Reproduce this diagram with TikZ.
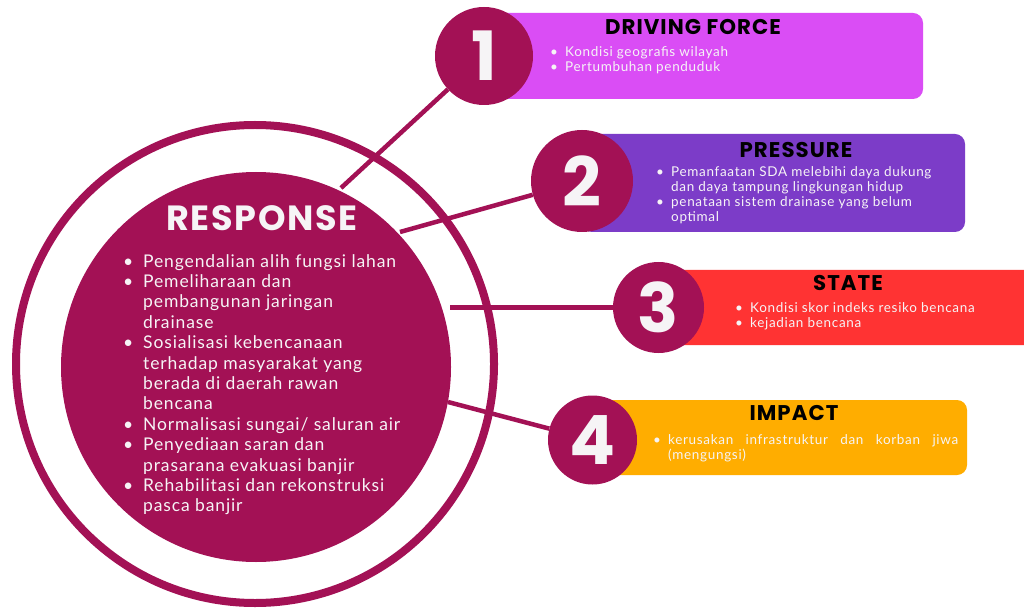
\documentclass[tikz,border=0pt]{standalone}
\usepackage{fontspec}
\usetikzlibrary{backgrounds}
\setmainfont{Lato}
\newfontfamily\headfont{Poppins}
\definecolor{maroon}{RGB}{163,17,85}
\definecolor{cdrive}{RGB}{218,77,245}
\definecolor{cpress}{RGB}{124,60,200}
\definecolor{cstate}{RGB}{255,51,51}
\definecolor{cimpact}{RGB}{255,173,0}
\definecolor{offwhite}{RGB}{246,244,246}
\newcommand\itm[2][20pt]{\makebox[#1][l]{\textbullet}#2}
\newcommand\cnt[2][20pt]{\hspace*{#1}#2}
\begin{document}
\begin{tikzpicture}[x=1pt,y=-1pt,
  conn/.style={draw=maroon, line width=4.5pt},
  numc/.style={circle, fill=maroon, inner sep=0pt, text=offwhite,
    font=\headfont\bfseries\fontsize{68}{68}\selectfont},
  infobox/.style={rounded corners=10pt, inner sep=0pt},
  boxtitle/.style={inner sep=0pt, text=black,
    font=\headfont\bfseries\fontsize{21.3}{21.3}\selectfont\addfontfeature{LetterSpace=5}},
  boxtext/.style={inner sep=0pt, anchor=north west, align=left, text=offwhite,
    font=\fontsize{13.5}{15.2}\selectfont\addfontfeature{LetterSpace=5}},
  resptext/.style={inner sep=0pt, anchor=north west, align=left, text=offwhite,
    font=\fontsize{17.5}{20.4}\selectfont\addfontfeature{LetterSpace=5}}]
\useasboundingbox (0,0) rectangle (1024,609);
\clip (0,0) rectangle (1024,609);
% info boxes
\node[infobox, fill=cdrive, minimum width=439pt, minimum height=86pt] (b1) at (703.5,56) {};
\node[infobox, fill=cpress, minimum width=383pt, minimum height=98pt] (b2) at (773.5,183) {};
\node[infobox, fill=cstate, minimum width=374pt, minimum height=75pt] (b3) at (847,307.5) {};
\node[infobox, fill=cimpact, minimum width=374pt, minimum height=75pt] (b4) at (780,437.5) {};
% outer ring and response circle
\node[circle, draw=maroon, line width=8pt, minimum size=478pt, inner sep=0pt] (ring) at (255,364) {};
\node[circle, fill=maroon, minimum size=390pt, inner sep=0pt] (resp) at (256,367) {};
% number circles
\node[numc, minimum size=98pt] (n1) at (484,56) {1};
\node[numc, minimum size=102pt] (n2) at (582,181) {2};
\node[numc, minimum size=91pt] (n3) at (658.5,307.5) {3};
\node[numc, minimum size=89pt] (n4) at (592.5,440) {4};
% connectors
\coordinate (r1) at (341,188);
\coordinate (r2) at (400,232);
\coordinate (r3) at (450,307.5);
\coordinate (r4) at (448,402);
\begin{scope}[on background layer]
\fill[white] (0,0) rectangle (1024,609);
\draw[conn] (r1) -- (n1);
\draw[conn] (r2) -- (n2);
\draw[conn] (r3) -- (n3);
\draw[conn] (r4) -- (n4);
\end{scope}
% titles
\node[boxtitle] (t1) at (693,27) {DRIVING FORCE};
\node[boxtitle] (t2) at (796,150) {PRESSURE};
\node[boxtitle] (t3) at (848,283) {STATE};
\node[boxtitle] (t4) at (794,413) {IMPACT};
% box texts
\node[boxtext] (x1) at (550,46.5) {\itm[15pt]{Kondisi geografis wilayah}\\\itm[15pt]{Pertumbuhan penduduk}};
\node[boxtext] (x2) at (656,166) {\itm[15pt]{Pemanfaatan SDA melebihi daya dukung}\\\cnt[15pt]{dan daya tampung lingkungan hidup}\\\itm[15pt]{penataan sistem drainase yang belum}\\\cnt[15pt]{optimal}};
\node[boxtext] (x3) at (735,302) {\itm[15pt]{Kondisi skor indeks resiko bencana}\\\itm[15pt]{kejadian bencana}};
\node[boxtext] (x4) at (653,434) {\itm[15pt]{\hbox to 290pt{kerusakan\hfil infrastruktur\hfil dan\hfil korban\hfil jiwa}}\\\cnt[15pt]{(mengungsi)}};
% response
\node[inner sep=0pt, text=offwhite, font=\headfont\bfseries\fontsize{35}{35}\selectfont\addfontfeature{LetterSpace=5}] (rt) at (262,218) {RESPONSE};
\node[resptext] (rl) at (123,254) {\itm{Pengendalian alih fungsi lahan}\\
\itm{Pemeliharaan dan}\\
\cnt{pembangunan jaringan}\\
\cnt{drainase}\\
\itm{Sosialisasi kebencanaan}\\
\cnt{terhadap masyarakat yang}\\
\cnt{berada di daerah rawan}\\
\cnt{bencana}\\
\itm{Normalisasi sungai/ saluran air}\\
\itm{Penyediaan saran dan}\\
\cnt{prasarana evakuasi banjir}\\
\itm{Rehabilitasi dan rekonstruksi}\\
\cnt{pasca banjir}};
\end{tikzpicture}
\end{document}
